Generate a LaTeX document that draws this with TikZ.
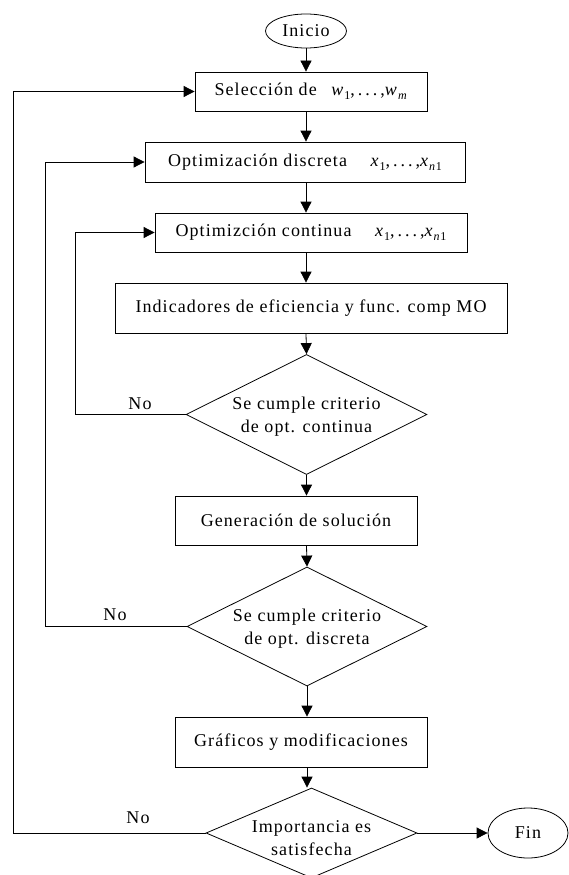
\documentclass[tikz,border=0pt]{standalone}
\usepackage{fontspec}
\setmainfont{Liberation Serif}[LetterSpace=6]
\usetikzlibrary{shapes.geometric,arrows.meta}
\newcommand{\mysub}[1]{\raisebox{-4pt}{\fontsize{12}{12}\selectfont #1}}
\newcommand{\vecw}{\textit{w}\mysub{1},\,.\,.\,.\,,\textit{w}\mysub{\textit{m}}}
\newcommand{\vecx}{\textit{x}\mysub{1},\,.\,.\,.\,,\textit{x}\mysub{\textit{n}1}}
\begin{document}
\begin{tikzpicture}[x=1pt,y=-1pt,
  every node/.style={font=\fontsize{18}{23}\selectfont, inner sep=0pt},
  box/.style={draw, line width=0.8pt, rectangle},
  term/.style={draw, line width=0.8pt, ellipse},
  dec/.style={draw, line width=0.8pt, diamond},
  txt/.style={align=center},
  arr/.style={line width=0.8pt, -{Triangle[length=11pt,width=11pt]}}]
\useasboundingbox (0,0) rectangle (568,875);
\node[term, minimum width=81, minimum height=34] (ini) at (306,31) {Inicio};
\node[box, minimum width=232, minimum height=39] (sel) at (311,91.5) {Selección de \enspace\vecw};
\node[box, minimum width=320, minimum height=40] (disc) at (305,162) {Optimización discreta \quad\vecx};
\node[box, minimum width=312, minimum height=39] (cont) at (311,232.5) {Optimizción continua \quad\vecx};
\node[box, minimum width=392, minimum height=50] (ind) at (311,308) {Indicadores de eficiencia y func. comp MO};
\node[dec, minimum width=241, minimum height=120] (d1) at (306.5,414.5) {};
\node[txt] (t1) at (306.5,416.5) {Se cumple criterio\\de opt. continua};
\node[box, minimum width=242, minimum height=49] (gen) at (296,520.5) {Generación de solución};
\node[dec, minimum width=240, minimum height=119] (d2) at (307,626.5) {};
\node[txt] (t2) at (307,628.5) {Se cumple criterio\\de opt. discreta};
\node[box, minimum width=252, minimum height=50] (graf) at (301,742) {Gráficos y modificaciones};
\node[dec, minimum width=211, minimum height=90] (d3) at (311.5,833) {};
\node[txt] (t3) at (311.5,838) {Importancia es\\satisfecha};
\node[term, minimum width=80, minimum height=50] (fin) at (528,833) {Fin};
\node (no1) at (140,404) {No};
\node (no2) at (115,615) {No};
\node (no3) at (138,818) {No};
\coordinate (c1) at (75,0);
\coordinate (c2) at (45,0);
\coordinate (c3) at (13,0);
\draw[arr] (ini.south) -- (ini.south |- sel.north);
\draw[arr] (ini.south |- sel.south) -- (ini.south |- disc.north);
\draw[arr] (ini.south |- disc.south) -- (ini.south |- cont.north);
\draw[arr] (ini.south |- cont.south) -- (ini.south |- ind.north);
\draw[arr] (ini.south |- ind.south) -- (d1.north);
\draw[arr] (d1.south) -- (d1.south |- gen.north);
\draw[arr] (d1.south |- gen.south) -- (d2.north);
\draw[arr] (d2.south) -- (d2.south |- graf.north);
\draw[arr] (d2.south |- graf.south) -- (d2.south |- d3.north);
\draw[arr] (d3.east) -- (fin.west);
\draw[arr] (d1.west) -- (d1.west -| c1) |- (cont.west);
\draw[arr] (d2.west) -- (d2.west -| c2) |- (disc.west);
\draw[arr] (d3.west) -- (d3.west -| c3) |- (sel.west);
\end{tikzpicture}
\end{document}
